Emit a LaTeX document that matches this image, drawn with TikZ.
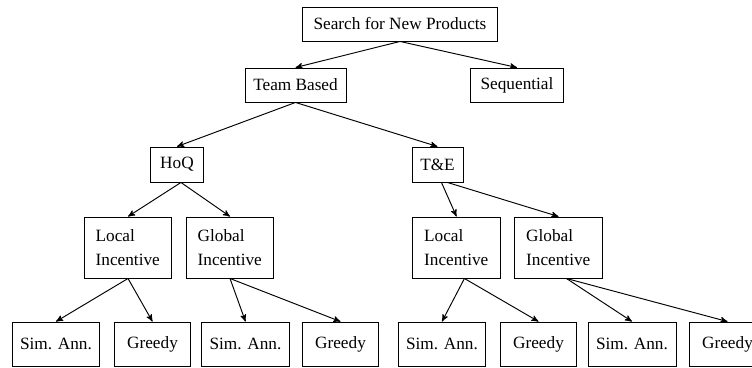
\documentclass[tikz,border=0pt]{standalone}
\usepackage{fontspec}
\setmainfont{Liberation Serif}
\usetikzlibrary{positioning, arrows}
\tikzset{
->, % directed edges
>=stealth', % small filled heads
every node/.style={draw, inner sep=0pt, font=\fontsize{10}{14}\selectfont}, % boxed nodes
rootbox/.style={minimum height=19.7pt},
midbox/.style={minimum height=20.3pt},
incbox/.style={minimum height=35.4pt, minimum width=51pt, align=left, text width=37.5pt},
annbox/.style={minimum height=25.5pt, minimum width=51pt},
greedybox/.style={minimum height=25.5pt, minimum width=44.1pt},
}

\begin{document}
\begin{tikzpicture}[x=0.58pt, y=-0.58pt, line width=0.55pt]
                \useasboundingbox (0,0) rectangle (752,368);
                % top levels
                \node[rootbox, minimum width=113.1pt] (search) at (400,24) {Search for New Products};
                \node[rootbox, minimum width=58.6pt] (team) at (295.5,85) {Team Based};
                \node[rootbox, minimum width=53.4pt] (seq) at (517,85) {Sequential};
                \node[midbox, minimum width=30.2pt] (hoq) at (177,164.5) {HoQ};
                \node[midbox, minimum width=29.6pt] (te) at (437.5,164.5) {T\&E};
                % incentives
                \node[incbox] (hloc) at (128,247.5) {Local\\Incentive};
                \node[incbox] (hglob) at (230,247.5) {Global\\Incentive};
                \node[incbox] (tloc) at (456.5,247.5) {Local\\Incentive};
                \node[incbox] (tglob) at (558.5,247.5) {Global\\Incentive};
                % leaves
                \node[annbox] (hlsa) at (56,344) {Sim. Ann.};
                \node[greedybox] (hlg) at (152.5,344) {Greedy};
                \node[annbox] (hgsa) at (245.5,344) {Sim. Ann.};
                \node[greedybox] (hgg) at (340.5,344) {Greedy};
                \node[annbox] (tlsa) at (442,344) {Sim. Ann.};
                \node[greedybox] (tlg) at (538.5,344) {Greedy};
                \node[annbox] (tgsa) at (632,344) {Sim. Ann.};
                \node[greedybox] (tgg) at (727.5,344) {Greedy};
                \path
                    (search.south) edge (team.north)
                    (search.south) edge (seq.north)
                    (team.south) edge (hoq.north)
                    (team.south) edge (te.north)
                    ([xshift=2.3pt]hoq.south) edge (hloc.north)
                    ([xshift=2.3pt]hoq.south) edge (hglob.north)
                    ([xshift=2.3pt]te.south) edge (tloc.north)
                    ([xshift=5.8pt]te.south) edge (tglob.north)
                    (hloc.south) edge (hlsa.north)
                    (hloc.south) edge (hlg.north)
                    (hglob.south) edge (hgsa.north)
                    (hglob.south) edge (hgg.north)
                    ([xshift=4.6pt]tloc.south) edge (tlsa.north)
                    ([xshift=4.6pt]tloc.south) edge (tlg.north)
                    ([xshift=4.6pt]tglob.south) edge (tgsa.north)
                    ([xshift=4.6pt]tglob.south) edge (tgg.north)
                    ;
\end{tikzpicture}
\end{document}
